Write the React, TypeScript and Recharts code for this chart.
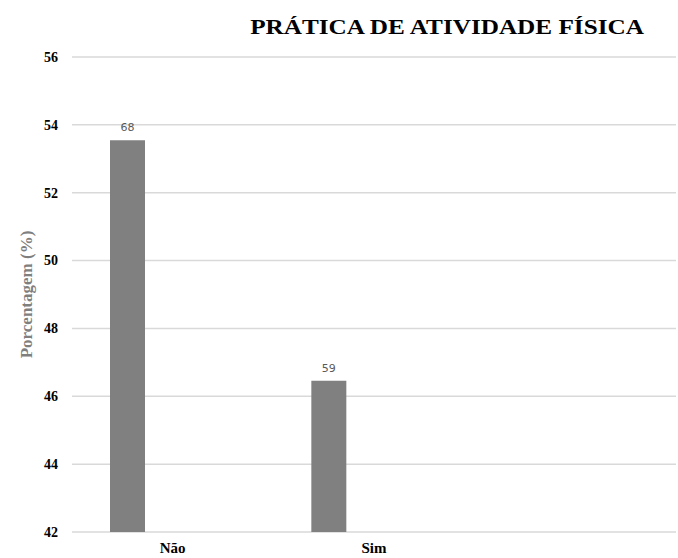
import { BarChart, Bar, XAxis, YAxis, CartesianGrid, LabelList } from 'recharts'

// respondents per answer; bar height is the share of the total
const categorias = ['Não', 'Sim', '']
const casos: (number | null)[] = [68, 59, null]
const reservado: (number | null)[] = [null, null, null]
const ticksY = [42, 44, 46, 48, 50, 52, 54, 56]

const total = casos.reduce<number>((s, v) => s + (v ?? 0), 0)

const data = categorias.map((nome, i) => ({
  nome,
  casos: casos[i],
  pct: casos[i] == null ? null : (casos[i]! / total) * 100,
  reservado: reservado[i],
}))

const serif = '"Liberation Serif", "Times New Roman", serif'

function TickY({ x, y, payload }: any) {
  return (
    <text x={x} y={y} dy="0.35em" textAnchor="end" fontFamily={serif} fontWeight="bold" fontSize={14} fill="#000">
      {payload.value}
    </text>
  )
}

function TickX({ x, y, payload }: any) {
  return (
    <text x={x} y={y} dy="0.75em" textAnchor="middle" fontFamily={serif} fontWeight="bold" fontSize={15} fill="#000">
      {payload.value}
    </text>
  )
}

export default function App() {
  return (
    <div
      style={{
        position: 'absolute',
        left: 0,
        top: 0,
        width: 678,
        height: 558,
        background: '#fff',
        fontFamily: serif,
      }}
    >
      <div
        style={{
          position: 'absolute',
          left: 245,
          top: 15,
          width: 404,
          textAlign: 'center',
          fontWeight: 'bold',
          fontSize: 21,
          color: '#000',
          whiteSpace: 'nowrap',
          transform: 'scaleX(1.2)',
          transformOrigin: 'center',
        }}
      >
        PRÁTICA DE ATIVIDADE FÍSICA
      </div>
      <BarChart
        width={678}
        height={558}
        data={data}
        margin={{ top: 57, right: 2, bottom: 0, left: 0 }}
        barGap={55}
      >
        <CartesianGrid vertical={false} stroke="#d9d9d9" strokeWidth={1.5} />
        <XAxis
          dataKey="nome"
          height={26}
          axisLine={false}
          tickLine={false}
          tickSize={0}
          tickMargin={10}
          interval={0}
          tick={<TickX />}
        />
        <YAxis
          width={72}
          domain={[42, 56]}
          ticks={ticksY}
          allowDataOverflow
          axisLine={false}
          tickLine={false}
          tickSize={0}
          tickMargin={14}
          tick={<TickY />}
          label={{
            value: 'Porcentagem (%)',
            angle: -90,
            position: 'insideLeft',
            offset: 26,
            style: { fontFamily: serif, fontWeight: 'bold', fontSize: 17, fill: '#7f7f7f', textAnchor: 'middle' },
          }}
        />
        <Bar dataKey="pct" fill="#808080" barSize={35} isAnimationActive={false}>
          <LabelList
            dataKey="casos"
            position="top"
            offset={9}
            formatter={(v: number | null) => (v == null ? '' : v)}
            style={{ fontFamily: '"DejaVu Sans", sans-serif', fontSize: 11, fill: '#595959' }}
          />
        </Bar>
        <Bar dataKey="reservado" fill="#808080" barSize={35} isAnimationActive={false} />
      </BarChart>
    </div>
  )
}
